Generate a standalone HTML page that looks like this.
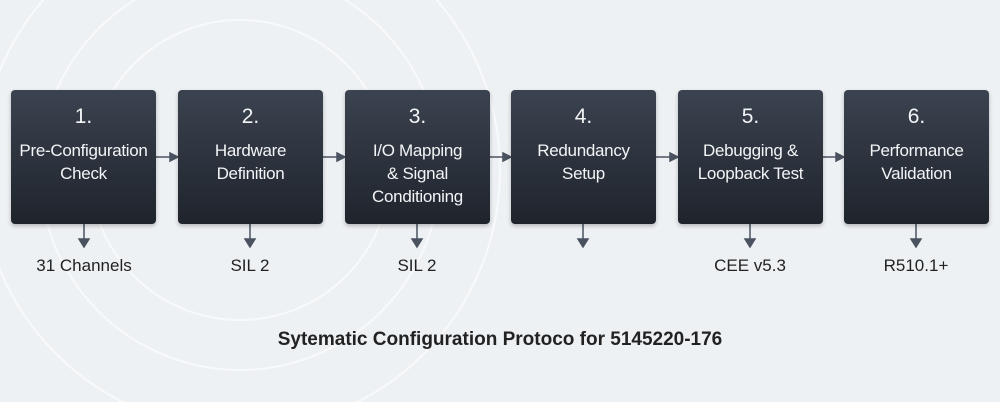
<!DOCTYPE html>
<html style="overflow:hidden"><head><style>
html,body{margin:0;width:1000px;height:402px;overflow:hidden}
body{background:#eef1f4;font-family:"Liberation Sans",sans-serif;position:relative}
.b{position:absolute;top:90px;width:145px;height:134px;border-radius:4px;background:linear-gradient(#3b4350,#1f242c);color:#f2f4f6;text-align:center;box-shadow:0 2px 4px rgba(0,0,0,.25)}
.n{font-size:21px;margin-top:14px;line-height:26px}
.t{font-size:17px;line-height:23px;margin-top:9px;letter-spacing:-0.3px}
.l{position:absolute;top:256px;width:160px;text-align:center;font-size:17px;color:#222}
.title{position:absolute;top:329px;left:0;width:1000px;text-align:center;font-weight:bold;font-size:19px;color:#222}
</style></head><body>
<svg width="1000" height="402" style="position:absolute;left:0;top:0;display:block">
<g fill="none" stroke="#ffffff" stroke-width="2" opacity="0.6">
<circle cx="240" cy="170" r="200"/><circle cx="240" cy="170" r="150"/><circle cx="240" cy="170" r="260"/>
</g>
<g stroke="#4a5260" stroke-width="1.5" fill="#4a5260">
<line x1="156" y1="157" x2="171" y2="157"/><path d="M178 157l-8-4v8z"/>
<line x1="322" y1="157" x2="338" y2="157"/><path d="M345 157l-8-4v8z"/>
<line x1="489" y1="157" x2="504" y2="157"/><path d="M511 157l-8-4v8z"/>
<line x1="656" y1="157" x2="671" y2="157"/><path d="M678 157l-8-4v8z"/>
<line x1="822" y1="157" x2="837" y2="157"/><path d="M844 157l-8-4v8z"/>
<line x1="84" y1="224" x2="84" y2="240"/><path d="M84 247l-5-8h10z"/>
<line x1="250" y1="224" x2="250" y2="240"/><path d="M250 247l-5-8h10z"/>
<line x1="417" y1="224" x2="417" y2="240"/><path d="M417 247l-5-8h10z"/>
<line x1="583" y1="224" x2="583" y2="240"/><path d="M583 247l-5-8h10z"/>
<line x1="750" y1="224" x2="750" y2="240"/><path d="M750 247l-5-8h10z"/>
<line x1="916" y1="224" x2="916" y2="240"/><path d="M916 247l-5-8h10z"/>
</g>
</svg>
<div class="b" style="left:11px"><div class="n">1.</div><div class="t">Pre-Configuration<br>Check</div></div>
<div class="b" style="left:178px"><div class="n">2.</div><div class="t">Hardware<br>Definition</div></div>
<div class="b" style="left:345px"><div class="n">3.</div><div class="t">I/O Mapping<br>&amp; Signal<br>Conditioning</div></div>
<div class="b" style="left:511px"><div class="n">4.</div><div class="t">Redundancy<br>Setup</div></div>
<div class="b" style="left:678px"><div class="n">5.</div><div class="t">Debugging &amp;<br>Loopback Test</div></div>
<div class="b" style="left:844px"><div class="n">6.</div><div class="t">Performance<br>Validation</div></div>
<div class="l" style="left:4px">31 Channels</div>
<div class="l" style="left:170px">SIL 2</div>
<div class="l" style="left:337px">SIL 2</div>
<div class="l" style="left:670px">CEE v5.3</div>
<div class="l" style="left:836px">R510.1+</div>
<div class="title">Sytematic Configuration Protoco for 5145220-176</div>
</body></html>
